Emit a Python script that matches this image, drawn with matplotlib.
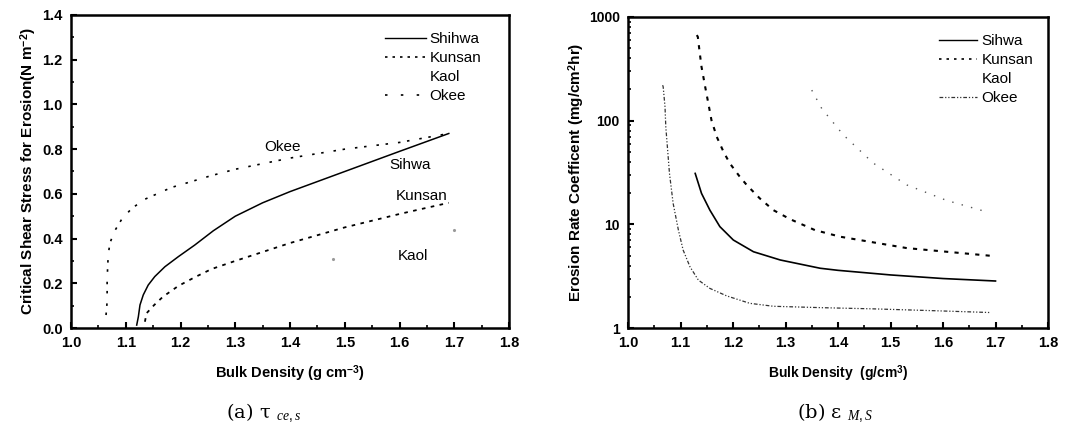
import matplotlib
matplotlib.use("Agg")
import matplotlib.pyplot as plt
from matplotlib.lines import Line2D
from matplotlib.ticker import MultipleLocator, LogLocator, NullFormatter, FormatStrFormatter, FuncFormatter

plt.rcParams['font.family'] = ['Liberation Sans', 'DejaVu Sans']
plt.rcParams['mathtext.fontset'] = 'custom'
plt.rcParams['mathtext.rm'] = 'Liberation Sans'
plt.rcParams['mathtext.bf'] = 'Liberation Sans:bold'
plt.rcParams['mathtext.it'] = 'Liberation Serif:italic'

# ---- panel (a): critical shear stress ----
shihwa_x = [1.120, 1.123, 1.126, 1.132, 1.141, 1.153, 1.1715, 1.196, 1.226, 1.260, 1.3, 1.35, 1.4, 1.5, 1.6, 1.69]
shihwa_y = [0.013, 0.05, 0.103, 0.148, 0.192, 0.23, 0.274, 0.319, 0.371, 0.435, 0.50, 0.56, 0.61, 0.70, 0.79, 0.87]
kunsan_x = [1.135, 1.138, 1.152, 1.168, 1.196, 1.226, 1.257, 1.3, 1.4, 1.5, 1.6, 1.69]
kunsan_y = [0.028, 0.066, 0.103, 0.14, 0.188, 0.227, 0.264, 0.30, 0.38, 0.45, 0.51, 0.56]
okee_x = [1.064, 1.066, 1.066, 1.067, 1.068, 1.071, 1.079, 1.0925, 1.111, 1.135, 1.159, 1.184,
          1.220, 1.254, 1.3, 1.4, 1.5, 1.6, 1.69]
okee_y = [0.058, 0.118, 0.215, 0.274, 0.327, 0.379, 0.431, 0.486, 0.535, 0.576, 0.602, 0.629,
          0.655, 0.680, 0.71, 0.76, 0.80, 0.83, 0.87]
kaol_x = [1.478, 1.70]
kaol_y = [0.31, 0.44]

# ---- panel (b): erosion rate coefficient ----
sihwa_b_x = [1.128, 1.140, 1.156, 1.175, 1.2006, 1.239, 1.29, 1.366, 1.4, 1.5, 1.6, 1.7]
sihwa_b_y = [31, 19.9, 13.7, 9.5, 7.06, 5.44, 4.53, 3.77, 3.6, 3.25, 3.0, 2.84]
kunsan_b_x = [1.131, 1.133, 1.136, 1.140, 1.147, 1.153, 1.159, 1.169, 1.182, 1.194, 1.212, 1.226,
              1.251, 1.277, 1.309, 1.356, 1.404, 1.531, 1.695]
kunsan_b_y = [669, 644, 479, 331, 212, 147, 101, 70, 50, 38.7, 29.2, 24,
              17.8, 13.7, 11.2, 8.8, 7.6, 5.9, 4.95]
kaol_b_x = [1.35, 1.369, 1.41, 1.467, 1.531, 1.607, 1.683]
kaol_b_y = [197, 131, 73, 39, 24, 17, 13.2]
okee_b_x = [1.066, 1.067, 1.0705, 1.072, 1.075, 1.079, 1.086, 1.096, 1.105, 1.118, 1.134, 1.156,
            1.188, 1.232, 1.277, 1.37, 1.467, 1.58, 1.69]
okee_b_y = [220, 212, 136, 87, 56, 31, 15.9, 8.8, 5.65, 3.9, 2.9, 2.41,
            2.04, 1.73, 1.62, 1.57, 1.53, 1.47, 1.41]

legend_a = ["Shihwa", "Kunsan", "Kaol", "Okee"]
legend_b = ["Sihwa", "Kunsan", "Kaol", "Okee"]

W, H = 1067, 429
fig = plt.figure(figsize=(W / 100, H / 100), dpi=100)

def px_axes(x0, x1, ytop, ybot):
    return fig.add_axes([x0 / W, (H - ybot) / H, (x1 - x0) / W, (ybot - ytop) / H])

def style(ax, ysize=10.5):
    for s in ax.spines.values():
        s.set_linewidth(1.8)
    ax.tick_params(which='both', direction='in', top=False, right=False)
    ax.tick_params(which='major', length=4.5, width=1.5, pad=6)
    ax.tick_params(which='minor', length=2.5, width=1.2)
    for lab in ax.get_xticklabels():
        lab.set_fontweight('bold')
        lab.set_fontsize(10.5)
    for lab in ax.get_yticklabels():
        lab.set_fontweight('bold')
        lab.set_fontsize(ysize)

okee_ls = (0, (1.5, 4, 1.5, 6))
kaol_ls = (0, (1, 6))
okee_b_ls = (0, (3, 1.5, 1, 1.5, 1, 1.5))

# ----- left -----
ax1 = px_axes(71, 509, 15, 328)
ax1.plot(shihwa_x, shihwa_y, color='black', lw=1.1, ls='-')
ax1.plot(kunsan_x, kunsan_y, color='black', lw=1.3, ls=(0, (2, 3)))
ax1.plot(kaol_x, kaol_y, color='#999999', lw=0, marker='.', ms=2.5)
ax1.plot(okee_x, okee_y, color='black', lw=1.2, ls=okee_ls)
ax1.set_xlim(1.0, 1.8)
ax1.set_ylim(0.0, 1.4)
ax1.xaxis.set_major_locator(MultipleLocator(0.1))
ax1.xaxis.set_minor_locator(MultipleLocator(0.05))
ax1.yaxis.set_major_locator(MultipleLocator(0.2))
ax1.yaxis.set_minor_locator(MultipleLocator(0.1))
ax1.xaxis.set_major_formatter(FormatStrFormatter('%.1f'))
ax1.yaxis.set_major_formatter(FormatStrFormatter('%.1f'))
style(ax1)
ax1.set_xlabel("Bulk Density (g cm$^{\\mathbf{-3}}$)", fontsize=10.5, fontweight='bold', labelpad=9)
ax1.set_ylabel("Critical Shear Stress for Erosion(N m$^{\\mathbf{-2}}$)", fontsize=11, fontweight='bold', labelpad=2)

h_a = [Line2D([], [], color='black', lw=1.0, ls='-'),
       Line2D([], [], color='black', lw=1.2, ls=(0, (1.5, 3))),
       Line2D([], [], color='none'),
       Line2D([], [], color='black', lw=1.2, ls=(0, (1.5, 8)))]
ax1.legend(h_a, legend_a, loc='upper left', bbox_to_anchor=(0.717, 0.945), frameon=False,
           prop=dict(size=11), handlelength=2.7, handletextpad=0.2, labelspacing=0.32,
           borderaxespad=0, borderpad=0)

ann = dict(fontsize=11, ha='center', va='center')
ax1.text(1.387, 0.81, "Okee", **ann)
ax1.text(1.619, 0.73, "Sihwa", **ann)
ax1.text(1.64, 0.59, "Kunsan", **ann)
ax1.text(1.625, 0.32, "Kaol", **ann)

# ----- right -----
ax2 = px_axes(628, 1048, 17, 328)
ax2.plot(sihwa_b_x, sihwa_b_y, color='black', lw=1.2, ls='-')
ax2.plot(kunsan_b_x, kunsan_b_y, color='black', lw=1.5, ls=(0, (2, 3)))
ax2.plot(kaol_b_x, kaol_b_y, color='#555555', lw=1.0, ls=kaol_ls)
ax2.plot(okee_b_x, okee_b_y, color='#333333', lw=0.9, ls=okee_b_ls)
ax2.set_yscale('log')
ax2.set_xlim(1.0, 1.8)
ax2.set_ylim(1, 1000)
ax2.xaxis.set_major_locator(MultipleLocator(0.1))
ax2.xaxis.set_minor_locator(MultipleLocator(0.05))
ax2.xaxis.set_major_formatter(FormatStrFormatter('%.1f'))
ax2.yaxis.set_major_locator(LogLocator(base=10))
ax2.yaxis.set_minor_locator(LogLocator(base=10, subs=range(2, 10)))
ax2.yaxis.set_minor_formatter(NullFormatter())
ax2.yaxis.set_major_formatter(FuncFormatter(lambda v, p: f"{v:g}"))
style(ax2, ysize=10)
ax2.set_xlabel("Bulk Density  (g/cm$^{\\mathbf{3}}$)", fontsize=10, fontweight='bold', labelpad=9)
ax2.set_ylabel("Erosion Rate Coefficent (mg/cm$^{\\mathbf{2}}$hr)", fontsize=11, fontweight='bold', labelpad=1)

h_b = [Line2D([], [], color='black', lw=1.0, ls='-'),
       Line2D([], [], color='black', lw=1.2, ls=(0, (1.5, 3))),
       Line2D([], [], color='none'),
       Line2D([], [], color='#333333', lw=0.9, ls=okee_b_ls)]
ax2.legend(h_b, legend_b, loc='upper left', bbox_to_anchor=(0.74, 0.944), frameon=False,
           prop=dict(size=11), handlelength=2.5, handletextpad=0.3, labelspacing=0.32,
           borderaxespad=0, borderpad=0)

# captions
fig.text(263 / W, (H - 413) / H, "(a) τ $_{ce,s}$", fontsize=14, family='DejaVu Serif',
         ha='center', va='center')
fig.text(835 / W, (H - 413) / H, "(b) ε $_{M,S}$", fontsize=14, family='DejaVu Serif',
         ha='center', va='center')

fig.savefig("out.png", dpi=100)
